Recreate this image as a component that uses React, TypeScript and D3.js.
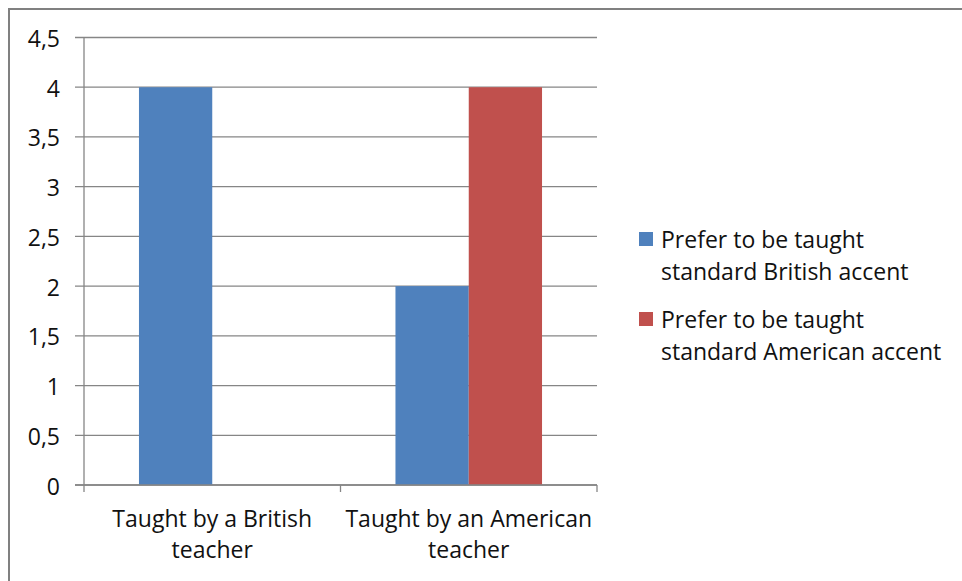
import React from "react";
import * as d3 from "d3";

const categories = ["Taught by a British teacher", "Taught by an American teacher"];
const categoryLines = [
  ["Taught by a British", "teacher"],
  ["Taught by an American", "teacher"],
];
const seriesNames = [
  "Prefer to be taught standard British accent",
  "Prefer to be taught standard American accent",
];
const seriesLines = [
  ["Prefer to be taught", "standard British accent"],
  ["Prefer to be taught", "standard American accent"],
];
const britishAccent = [4, 2];
const americanAccent = [0, 4];
const seriesValues = [britishAccent, americanAccent];
const seriesColors = ["#4f81bd", "#c0504d"];
const yTicks = [0, 0.5, 1, 1.5, 2, 2.5, 3, 3.5, 4, 4.5];

const W = 962;
const H = 581;
const plot = { left: 84, right: 597, top: 37.5, bottom: 485 };
const FONT = "'Open Sans', sans-serif";
const GRID = "#868686";
const TEXT = "#111";

export default function App() {
  const x = d3.scaleBand<string>().domain(categories).range([plot.left, plot.right]).padding(0);
  const xs = d3
    .scaleBand<string>()
    .domain(seriesNames)
    .range([0, x.bandwidth()])
    .paddingInner(0)
    .paddingOuter(0.75);
  const y = d3.scaleLinear().domain([0, 4.5]).range([plot.bottom, plot.top]);
  const fmt = (v: number) => String(v).replace(".", ",");
  const xTickPositions = [plot.left, ...categories.map((c) => (x(c) as number) + x.bandwidth())];

  return (
    <svg
      width={W}
      height={H}
      viewBox={`0 0 ${W} ${H}`}
      style={{ position: "fixed", left: 0, top: 0, background: "#fff" }}
    >
      <rect x={0} y={0} width={W} height={H} fill="#fff" />
      {/* outer frame, right and bottom edges fall outside the view */}
      <rect x={9} y={9} width={W + 20} height={H + 20} fill="none" stroke="#808080" strokeWidth={2} />

      {/* horizontal gridlines with left tick marks */}
      {yTicks.map((t) => (
        <line
          key={t}
          x1={plot.left - 9}
          x2={plot.right}
          y1={y(t)}
          y2={y(t)}
          stroke={GRID}
          strokeWidth={1.3}
        />
      ))}

      {/* bars */}
      {seriesNames.map((s, si) =>
        categories.map((c, ci) => {
          const v = seriesValues[si][ci];
          if (v <= 0) return null;
          return (
            <rect
              key={`${si}-${ci}`}
              x={(x(c) as number) + (xs(s) as number)}
              y={y(v)}
              width={xs.bandwidth()}
              height={y(0) - y(v)}
              fill={seriesColors[si]}
            />
          );
        })
      )}

      {/* axes */}
      <line x1={plot.left} x2={plot.left} y1={plot.top} y2={plot.bottom} stroke={GRID} strokeWidth={1.3} />
      <line x1={plot.left - 9} x2={plot.right} y1={plot.bottom} y2={plot.bottom} stroke={GRID} strokeWidth={1.3} />
      {xTickPositions.map((px, i) => (
        <line key={i} x1={px} x2={px} y1={plot.bottom} y2={plot.bottom + 7} stroke={GRID} strokeWidth={1.3} />
      ))}

      {/* y tick labels */}
      {yTicks.map((t) => (
        <text
          key={t}
          x={60}
          y={y(t) + 9.5}
          textAnchor="end"
          fontFamily={FONT}
          fontSize={23}
          fill={TEXT}
        >
          {fmt(t)}
        </text>
      ))}

      {/* category labels */}
      {categories.map((c, ci) => (
        <text
          key={c}
          textAnchor="middle"
          fontFamily={FONT}
          fontSize={23}
          fill={TEXT}
        >
          {categoryLines[ci].map((line, li) => (
            <tspan key={li} x={(x(c) as number) + x.bandwidth() / 2} y={526.7 + li * 31.3}>
              {line}
            </tspan>
          ))}
        </text>
      ))}

      {/* legend */}
      {seriesNames.map((s, si) => {
        const top = 232 + si * 80;
        return (
          <g key={s}>
            <rect x={639} y={top} width={14} height={14} fill={seriesColors[si]} />
            <text fontFamily={FONT} fontSize={23} fill={TEXT}>
              {seriesLines[si].map((line, li) => (
                <tspan key={li} x={661} y={top + 15.5 + li * 32}>
                  {line}
                </tspan>
              ))}
            </text>
          </g>
        );
      })}
    </svg>
  );
}
